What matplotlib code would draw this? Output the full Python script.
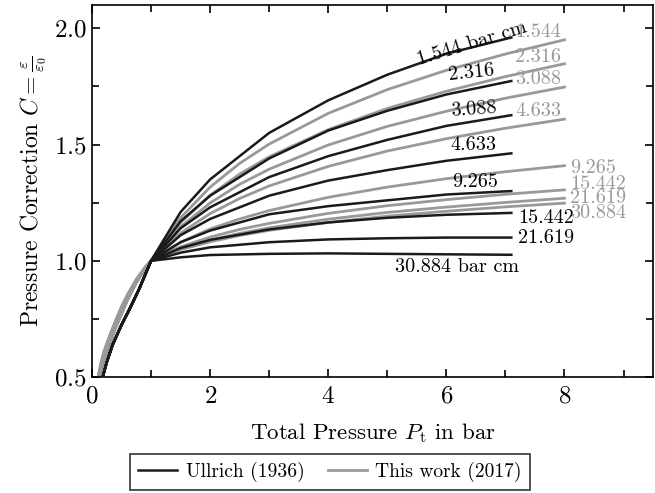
import matplotlib
matplotlib.use("Agg")
import matplotlib.pyplot as plt
from matplotlib.ticker import MultipleLocator

plt.rcParams['font.family'] = ['cmr10', 'DejaVu Serif']
plt.rcParams['mathtext.fontset'] = 'cm'
plt.rcParams['axes.formatter.use_mathtext'] = True
plt.rcParams['axes.unicode_minus'] = False

# column lengths in bar cm
lengths = ['1.544', '2.316', '3.088', '4.633', '9.265', '15.442', '21.619', '30.884']

# Ullrich (1936)
p_ullrich = [0.18, 0.25, 0.35, 0.5, 0.65, 0.8, 1.0, 1.5, 2.0, 3.0, 4.0, 5.0, 6.0, 7.1]
c_ullrich = [
    [0.50, 0.565, 0.64, 0.725, 0.80, 0.88, 1.0, 1.21, 1.35, 1.55, 1.69, 1.80, 1.89, 1.96],
    [0.50, 0.565, 0.64, 0.725, 0.80, 0.88, 1.0, 1.17, 1.28, 1.44, 1.56, 1.645, 1.715, 1.773],
    [0.50, 0.565, 0.64, 0.725, 0.80, 0.88, 1.0, 1.14, 1.23, 1.36, 1.45, 1.52, 1.58, 1.626],
    [0.50, 0.565, 0.64, 0.725, 0.80, 0.88, 1.0, 1.11, 1.18, 1.28, 1.345, 1.39, 1.43, 1.462],
    [0.50, 0.565, 0.64, 0.725, 0.80, 0.88, 1.0, 1.08, 1.13, 1.20, 1.235, 1.26, 1.285, 1.30],
    [0.50, 0.565, 0.64, 0.725, 0.80, 0.88, 1.0, 1.055, 1.09, 1.135, 1.165, 1.185, 1.198, 1.206],
    [0.50, 0.565, 0.64, 0.725, 0.80, 0.88, 1.0, 1.035, 1.058, 1.08, 1.092, 1.097, 1.10, 1.10],
    [0.50, 0.565, 0.64, 0.725, 0.80, 0.88, 1.0, 1.015, 1.025, 1.03, 1.032, 1.03, 1.028, 1.026],
]

# this work (2017)
p_this = [0.1, 0.15, 0.2, 0.3, 0.4, 0.5, 0.6, 0.75, 0.9, 1.0, 1.25, 1.5, 2.0, 2.5, 3.0, 4.0, 5.0, 6.0, 7.0, 8.0]
c_this = [
    [0.46, 0.52, 0.57, 0.64, 0.71, 0.77, 0.83, 0.905, 0.965, 1.0, 1.102, 1.185, 1.317, 1.419, 1.502, 1.634, 1.736, 1.819, 1.889, 1.95],
    [0.465, 0.525, 0.575, 0.645, 0.715, 0.775, 0.834, 0.907, 0.966, 1.0, 1.091, 1.165, 1.282, 1.373, 1.447, 1.564, 1.655, 1.729, 1.792, 1.847],
    [0.47, 0.53, 0.58, 0.65, 0.72, 0.78, 0.838, 0.909, 0.967, 1.0, 1.080, 1.146, 1.249, 1.329, 1.394, 1.498, 1.578, 1.643, 1.699, 1.747],
    [0.475, 0.535, 0.586, 0.656, 0.725, 0.785, 0.842, 0.912, 0.968, 1.0, 1.065, 1.119, 1.203, 1.268, 1.322, 1.406, 1.472, 1.525, 1.570, 1.609],
    [0.485, 0.545, 0.595, 0.665, 0.732, 0.792, 0.846, 0.915, 0.97, 1.0, 1.044, 1.080, 1.137, 1.180, 1.216, 1.273, 1.317, 1.353, 1.383, 1.409],
    [0.49, 0.55, 0.60, 0.67, 0.736, 0.796, 0.849, 0.917, 0.971, 1.0, 1.033, 1.060, 1.102, 1.135, 1.161, 1.204, 1.237, 1.263, 1.286, 1.305],
    [0.495, 0.555, 0.605, 0.675, 0.74, 0.80, 0.852, 0.919, 0.972, 1.0, 1.029, 1.052, 1.089, 1.118, 1.142, 1.179, 1.208, 1.231, 1.251, 1.269],
    [0.50, 0.56, 0.61, 0.68, 0.744, 0.804, 0.855, 0.921, 0.973, 1.0, 1.027, 1.048, 1.082, 1.109, 1.131, 1.165, 1.192, 1.213, 1.232, 1.248],
]

fig = plt.figure(figsize=(6.55, 4.93), dpi=100)
ax = fig.add_axes([0.1405, 0.235, 0.8565, 0.755])

gray = '#999999'
for i in range(len(lengths)):
    ax.plot(p_ullrich, c_ullrich[i], color='#1a1a1a', lw=1.8, zorder=3,
            label='Ullrich (1936)' if i == 0 else None)
for i in range(len(lengths)):
    ax.plot(p_this, c_this[i], color=gray, lw=2.0, zorder=2,
            label='This work (2017)' if i == 0 else None)

# labels of the Ullrich curves
fs = 14.5
ax.text(6.43, 1.933, '1.544 bar cm', fontsize=fs, rotation=17, ha='center', va='center')
ax.text(6.42, 1.81, '2.316', fontsize=fs, rotation=6, ha='center', va='center')
ax.text(6.46, 1.652, '3.088', fontsize=fs, rotation=4, ha='center', va='center')
ax.text(6.46, 1.497, '4.633', fontsize=fs, ha='center', va='center')
ax.text(6.48, 1.337, '9.265', fontsize=fs, ha='center', va='center')
ax.text(7.22, 1.186, '15.442', fontsize=fs, ha='left', va='center')
ax.text(7.22, 1.10, '21.619', fontsize=fs, ha='left', va='center')
ax.text(6.18, 0.974, '30.884 bar cm', fontsize=fs, ha='center', va='center')

# labels of this work
ax.text(7.17, 1.985, '1.544', fontsize=fs, color=gray, ha='left', va='center')
ax.text(7.17, 1.875, '2.316', fontsize=fs, color=gray, ha='left', va='center')
ax.text(7.17, 1.78, '3.088', fontsize=fs, color=gray, ha='left', va='center')
ax.text(7.17, 1.646, '4.633', fontsize=fs, color=gray, ha='left', va='center')
ax.text(8.1, 1.40, '9.265', fontsize=fs, color=gray, ha='left', va='center')
ax.text(8.1, 1.328, '15.442', fontsize=fs, color=gray, ha='left', va='center')
ax.text(8.1, 1.268, '21.619', fontsize=fs, color=gray, ha='left', va='center')
ax.text(8.1, 1.207, '30.884', fontsize=fs, color=gray, ha='left', va='center')

ax.set_xlim(0, 9.5)
ax.set_ylim(0.5, 2.1)
ax.xaxis.set_major_locator(MultipleLocator(2))
ax.xaxis.set_minor_locator(MultipleLocator(1))
ax.yaxis.set_major_locator(MultipleLocator(0.5))
ax.yaxis.set_minor_locator(MultipleLocator(0.25))
ax.tick_params(which='both', direction='in', top=True, right=True, labelsize=18, width=1.2)
ax.tick_params(which='major', length=6)
ax.tick_params(which='minor', length=5)
ax.tick_params(axis='x', pad=6)
for s in ax.spines.values():
    s.set_linewidth(1.2)

ax.set_xlabel(r'Total Pressure $P_\mathrm{t}$ in bar', fontsize=16.5, labelpad=10)
ax.set_ylabel(r'Pressure Correction $C = \frac{\varepsilon}{\varepsilon_0}$', fontsize=17, labelpad=4)

leg = ax.legend(loc='center', bbox_to_anchor=(0.424, -0.255), ncol=2, fontsize=14,
                frameon=True, fancybox=False, edgecolor='black', handlelength=2.0,
                handletextpad=0.45, columnspacing=1.2, borderpad=0.4)
leg.get_frame().set_linewidth(1.2)

fig.savefig('out.png', dpi=100)
